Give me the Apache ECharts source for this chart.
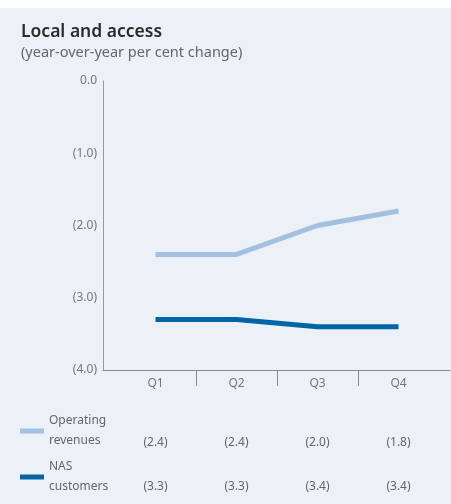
<!DOCTYPE html>
<html>
<head>
<meta charset="utf-8">
<script src="https://cdn.jsdelivr.net/npm/echarts@6/dist/echarts.min.js"></script>
<style>
  html, body { margin: 0; padding: 0; background: #fff; }
  #chart { width: 451px; height: 504px; }
</style>
</head>
<body>
<div id="chart"></div>
<script>
const quarters = ['Q1', 'Q2', 'Q3', 'Q4'];
const operatingRevenues = [-2.4, -2.4, -2.0, -1.8];
const nasCustomers = [-3.3, -3.3, -3.4, -3.4];
const seriesNames = ['Operating revenues', 'NAS customers'];
const legendLabels = ['Operating\nrevenues', 'NAS\ncustomers'];
const colors = ['#a4c0e0', '#0065a6'];

// half-band slots so the separators sit between quarters: '', Q1, '', Q2, ...
const slots = [''];
quarters.forEach(q => slots.push(q, ''));
const toSlots = vals => {
  const out = [null];
  vals.forEach(v => out.push(v, null));
  return out;
};
const fmt = v => v === 0 ? '0.0' : '(' + Math.abs(v).toFixed(1) + ')';
const isQuarter = i => i % 2 === 1;

const font = '"Noto Sans", sans-serif';

function rowAxis(values, offset) {
  return {
    type: 'category', gridIndex: 0, data: slots, boundaryGap: false,
    position: 'bottom', offset: offset,
    axisLine: { show: false, onZero: false }, axisTick: { show: false },
    axisLabel: {
      interval: isQuarter, margin: 8, color: '#666', fontSize: 12, fontFamily: font,
      formatter: (val, idx) => isQuarter(idx) ? fmt(values[(idx - 1) / 2]) : ''
    }
  };
}

const chart = echarts.init(document.getElementById('chart'));
chart.setOption({
  animation: false,
  graphic: [{
    type: 'rect', silent: true, z: -100,
    shape: { x: 0, y: 8, width: 451, height: 496 },
    style: { fill: '#ecf0f7' }
  }],
  title: {
    text: 'Local and access',
    subtext: '(year-over-year per cent change)',
    left: 16, top: 18, itemGap: 4,
    textStyle: { fontFamily: font, fontSize: 17.5, fontWeight: 600, color: '#2b2b2b' },
    subtextStyle: { fontFamily: font, fontSize: 14.5, color: '#666' }
  },
  legend: {
    orient: 'vertical', left: 20, top: 411, height: 93, padding: 0, itemGap: 6,
    itemWidth: 24, itemHeight: 5, icon: 'rect',
    data: seriesNames,
    formatter: name => legendLabels[seriesNames.indexOf(name)],
    textStyle: { fontFamily: font, fontSize: 12, color: '#666', lineHeight: 20 }
  },
  grid: [
    { left: 115, right: 12, top: 81, bottom: 134 },
    { left: 103, right: 1, top: 81, bottom: 134 }
  ],
  xAxis: [
    {
      type: 'category', gridIndex: 0, data: slots, boundaryGap: false, position: 'bottom',
      axisLine: { show: false, onZero: false },
      axisTick: {
        show: true, length: 16, interval: i => i > 0 && i < slots.length - 1 && !isQuarter(i),
        lineStyle: { color: '#888' }
      },
      axisLabel: { interval: isQuarter, margin: 8, color: '#777', fontSize: 12, fontFamily: font }
    },
    {
      type: 'value', gridIndex: 1, min: 0, max: 1, position: 'bottom',
      axisLine: { show: true, onZero: false, lineStyle: { color: '#8a8a8a' } },
      axisTick: { show: false }, axisLabel: { show: false }, splitLine: { show: false }
    },
    rowAxis(operatingRevenues, 59),
    rowAxis(nasCustomers, 103)
  ],
  yAxis: [
    { type: 'value', gridIndex: 0, min: -4, max: 0, interval: 1, show: false },
    {
      type: 'value', gridIndex: 1, min: -4, max: 0, interval: 1,
      axisLine: { show: true, onZero: false, lineStyle: { color: '#999' } },
      axisTick: { show: false }, splitLine: { show: false },
      axisLabel: { formatter: fmt, margin: 6, color: '#777', fontSize: 12, fontFamily: font }
    }
  ],
  series: [
    {
      name: seriesNames[0], type: 'line', xAxisIndex: 0, yAxisIndex: 0,
      data: toSlots(operatingRevenues), connectNulls: true, showSymbol: false,
      color: colors[0], lineStyle: { width: 5, color: colors[0] }
    },
    {
      name: seriesNames[1], type: 'line', xAxisIndex: 0, yAxisIndex: 0,
      data: toSlots(nasCustomers), connectNulls: true, showSymbol: false,
      color: colors[1], lineStyle: { width: 5, color: colors[1] }
    }
  ]
});
</script>
</body>
</html>
